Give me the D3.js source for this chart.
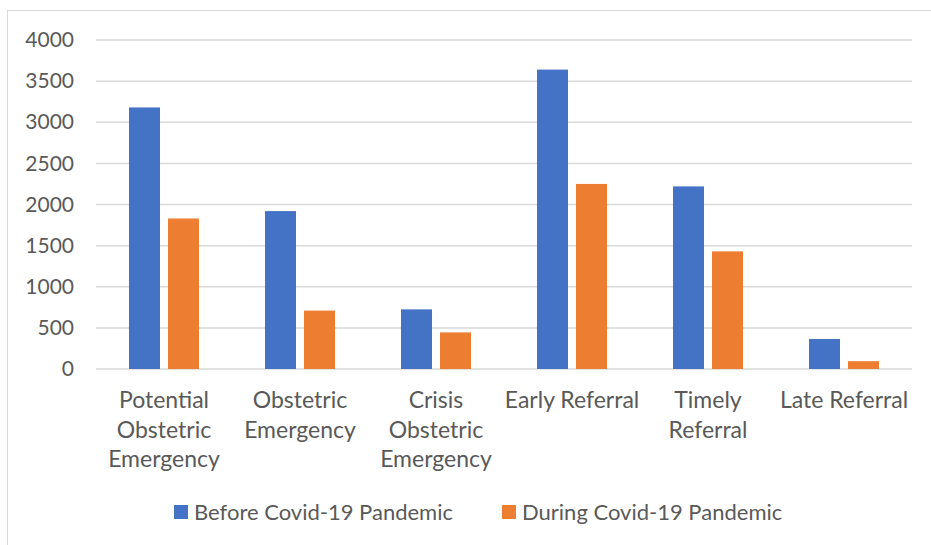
<!DOCTYPE html>
<html>
<head>
<meta charset="utf-8">
<script src="https://cdn.jsdelivr.net/npm/d3@7"></script>
<style>
  html, body { margin: 0; padding: 0; background: #fff; }
  svg { display: block; }
  text { font-family: Lato, "Liberation Sans", sans-serif; fill: #595959; }
</style>
</head>
<body>
<svg id="chart" width="931" height="545"></svg>
<script>
const categories = [
  ["Potential", "Obstetric", "Emergency"],
  ["Obstetric", "Emergency"],
  ["Crisis", "Obstetric", "Emergency"],
  ["Early Referral"],
  ["Timely", "Referral"],
  ["Late Referral"]
];
const seriesNames = ["Before Covid-19 Pandemic", "During Covid-19 Pandemic"];
const before = [3180, 1920, 725, 3640, 2220, 365];
const during = [1830, 710, 445, 2250, 1430, 95];
const yTicks = [0, 500, 1000, 1500, 2000, 2500, 3000, 3500, 4000];
const colors = ["#4472C4", "#ED7D31"];

const svg = d3.select("#chart");

// outer border
svg.append("rect")
  .attr("x", 7.5).attr("y", 10.5)
  .attr("width", 940).attr("height", 560)
  .attr("fill", "none").attr("stroke", "#d9d9d9").attr("stroke-width", 1);

const plotLeft = 96, plotRight = 912, plotTop = 40, plotBottom = 369;

const y = d3.scaleLinear().domain([0, 4000]).range([plotBottom, plotTop]);
const idx = d3.range(categories.length);
const x0 = d3.scaleBand().domain(idx).range([plotLeft, plotRight]).paddingInner(0).paddingOuter(0);
const groupW = 70;
const x1 = d3.scaleBand().domain([0, 1]).range([0, groupW]).paddingInner(8 / 39).paddingOuter(0);

// gridlines
svg.append("g").selectAll("line").data(yTicks).join("line")
  .attr("x1", plotLeft).attr("x2", plotRight)
  .attr("y1", d => y(d)).attr("y2", d => y(d))
  .attr("stroke", "#d9d9d9").attr("stroke-width", 1.5);

// y axis labels
const yAxis = d3.axisLeft(y).tickValues(yTicks).tickSize(0).tickPadding(0).tickFormat(d3.format("d"));
const gy = svg.append("g").attr("transform", "translate(74,0)").call(yAxis);
gy.select(".domain").remove();
gy.selectAll("text").attr("font-size", 21).attr("font-family", null).style("fill", "#595959");

// bars
const series = [before, during];
const groups = svg.append("g").selectAll("g").data(idx).join("g")
  .attr("transform", i => `translate(${x0(i) + x0.bandwidth() / 2 - groupW / 2},0)`);
groups.selectAll("rect").data(i => [0, 1].map(s => ({ s, v: series[s][i] }))).join("rect")
  .attr("x", d => x1(d.s))
  .attr("width", x1.bandwidth())
  .attr("y", d => y(d.v))
  .attr("height", d => y(0) - y(d.v))
  .attr("fill", d => colors[d.s]);

// category labels
const catG = svg.append("g").selectAll("text").data(idx).join("text")
  .attr("text-anchor", "middle")
  .attr("font-size", 23)
  .attr("x", i => x0(i) + x0.bandwidth() / 2)
  .attr("y", 408);
catG.selectAll("tspan").data(i => categories[i]).join("tspan")
  .attr("x", function() { return d3.select(this.parentNode).attr("x"); })
  .attr("dy", (d, k) => k === 0 ? 0 : 29.5)
  .text(d => d);

// legend
const legendX = [174, 502];
const lg = svg.append("g").selectAll("g").data(seriesNames).join("g")
  .attr("transform", (d, i) => `translate(${legendX[i]},505)`);
lg.append("rect").attr("width", 14).attr("height", 14).attr("fill", (d, i) => colors[i]);
lg.append("text").attr("x", 20).attr("y", 15).attr("font-size", 22).text(d => d);
</script>
</body>
</html>
